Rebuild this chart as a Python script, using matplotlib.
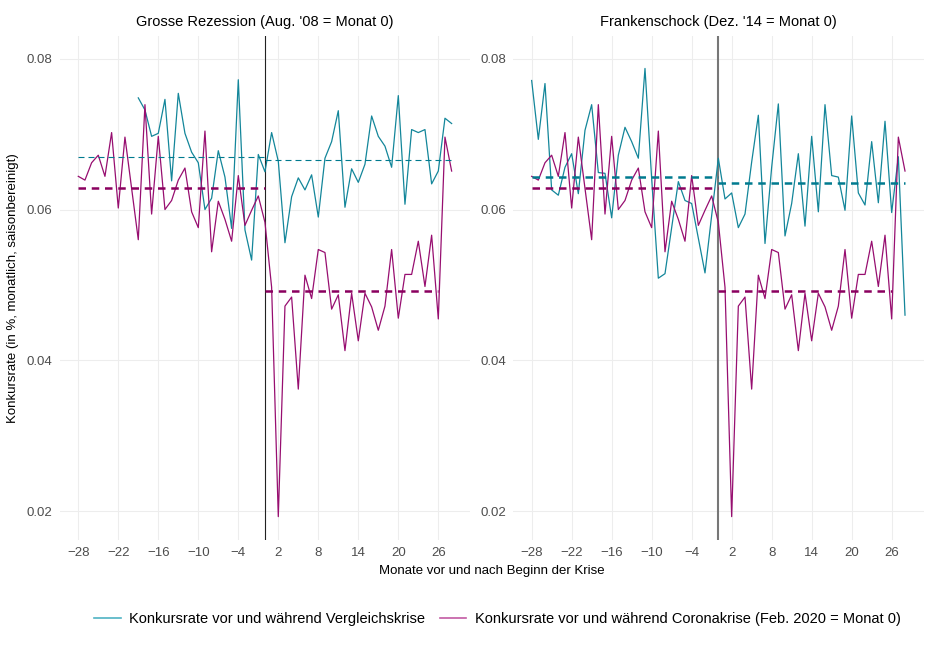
import matplotlib
matplotlib.use("Agg")
import matplotlib.pyplot as plt
from matplotlib.lines import Line2D

plt.rcParams['font.family'] = ['Liberation Sans', 'DejaVu Sans']

# Monate relativ zum Krisenbeginn
monate = list(range(-28, 29))
monate_gr = list(range(-19, 29))

# Konkursrate Coronakrise (Feb. 2020 = Monat 0)
corona = [0.0644, 0.0639, 0.0662, 0.0672, 0.0644, 0.0702, 0.0602, 0.0696, 0.0628, 0.0560,
          0.0739, 0.0594, 0.0697, 0.0600, 0.0612, 0.0639, 0.0655, 0.0597, 0.0576, 0.0704,
          0.0544, 0.0611, 0.0587, 0.0558, 0.0645, 0.0579, 0.0599, 0.0618, 0.0583, 0.0497,
          0.0193, 0.0472, 0.0484, 0.0362, 0.0513, 0.0482, 0.0547, 0.0543, 0.0468, 0.0487,
          0.0413, 0.0489, 0.0426, 0.0489, 0.0471, 0.0440, 0.0472, 0.0547, 0.0456, 0.0514,
          0.0514, 0.0558, 0.0498, 0.0566, 0.0455, 0.0696, 0.0651]

# Grosse Rezession (Aug. '08 = Monat 0), ab Monat -19
rezession = [0.0748, 0.0732, 0.0697, 0.0701, 0.0746, 0.0638, 0.0754, 0.0701, 0.0676, 0.0662,
             0.0600, 0.0615, 0.0678, 0.0643, 0.0575, 0.0772, 0.0573, 0.0533, 0.0673, 0.0650,
             0.0702, 0.0664, 0.0556, 0.0617, 0.0642, 0.0626, 0.0646, 0.0590, 0.0668, 0.0690,
             0.0731, 0.0603, 0.0654, 0.0636, 0.0660, 0.0724, 0.0697, 0.0684, 0.0656, 0.0751,
             0.0607, 0.0706, 0.0702, 0.0706, 0.0634, 0.0651, 0.0721, 0.0714]

# Frankenschock (Dez. '14 = Monat 0)
franken = [0.0771, 0.0693, 0.0767, 0.0626, 0.0619, 0.0656, 0.0674, 0.0621, 0.0705, 0.0739,
           0.0649, 0.0648, 0.0589, 0.0672, 0.0709, 0.0690, 0.0668, 0.0787, 0.0641, 0.0509,
           0.0515, 0.0576, 0.0637, 0.0612, 0.0608, 0.0562, 0.0516, 0.0592, 0.0668, 0.0614,
           0.0622, 0.0576, 0.0594, 0.0663, 0.0725, 0.0555, 0.0656, 0.0740, 0.0565, 0.0608,
           0.0674, 0.0578, 0.0697, 0.0597, 0.0739, 0.0645, 0.0643, 0.0599, 0.0724, 0.0622,
           0.0606, 0.0690, 0.0609, 0.0717, 0.0596, 0.0670, 0.0460]

# Durchschnitte vor / nach Krisenbeginn
mittel_corona = [0.0629, 0.0492]
mittel_rezession = [0.0669, 0.0665]
mittel_franken = [0.0643, 0.0635]
abschnitte_vor = [-28, 0]
abschnitte_nach = [0, 28]
abschnitte_nach_corona = [0, 26]

titel = ["Grosse Rezession (Aug. '08 = Monat 0)", "Frankenschock (Dez. '14 = Monat 0)"]
xticks = list(range(-28, 27, 6))
yticks = [0.02, 0.04, 0.06, 0.08]

teal = '#13869a'
teal_d = '#007a8f'
mag = '#970e70'
mag_d = '#8a005f'

fig = plt.figure(figsize=(9.3, 6.51), dpi=100)
ax1 = fig.add_axes([0.0641, 0.1705, 0.4416, 0.7742])
ax2 = fig.add_axes([0.5516, 0.1705, 0.4416, 0.7742])

for ax, t in zip([ax1, ax2], titel):
    ax.set_xlim(-30.8, 30.8)
    ax.set_ylim(0.0162, 0.0830)
    ax.set_xticks(xticks)
    ax.set_yticks(yticks)
    ax.set_yticklabels(["0.02", "0.04", "0.06", "0.08"])
    ax.grid(True, color='#ededed', linewidth=0.8)
    ax.set_axisbelow(True)
    for s in ax.spines.values():
        s.set_visible(False)
    ax.tick_params(length=0, labelsize=9.5, labelcolor='#4d4d4d', pad=5)
    ax.set_title(t, fontsize=10.5, pad=7)

# linkes Panel
ax1.axvline(0, color='#222222', linewidth=0.8, zorder=1)
ax1.plot(monate_gr, rezession, color=teal, linewidth=0.9)
ax1.plot(monate, corona, color=mag, linewidth=0.9)
ax1.plot(abschnitte_vor, [mittel_rezession[0]] * 2, color=teal_d, linewidth=0.8, dashes=(5.4, 3.6))
ax1.plot(abschnitte_nach, [mittel_rezession[1]] * 2, color=teal_d, linewidth=0.8, dashes=(5.4, 3.6))
ax1.plot(abschnitte_vor, [mittel_corona[0]] * 2, color=mag_d, linewidth=1.8, dashes=(3, 2.3))
ax1.plot(abschnitte_nach_corona, [mittel_corona[1]] * 2, color=mag_d, linewidth=1.8, dashes=(3, 2.3))

# rechtes Panel
ax2.axvline(0, color='#777777', linewidth=1.5, zorder=1)
ax2.plot(monate, franken, color=teal, linewidth=0.9)
ax2.plot(monate, corona, color=mag, linewidth=0.9)
ax2.plot(abschnitte_vor, [mittel_franken[0]] * 2, color=teal_d, linewidth=1.8, dashes=(3, 2.3))
ax2.plot(abschnitte_nach, [mittel_franken[1]] * 2, color=teal_d, linewidth=1.8, dashes=(3, 2.3))
ax2.plot(abschnitte_vor, [mittel_corona[0]] * 2, color=mag_d, linewidth=1.8, dashes=(3, 2.3))
ax2.plot(abschnitte_nach_corona, [mittel_corona[1]] * 2, color=mag_d, linewidth=1.8, dashes=(3, 2.3))

fig.text(0.5286, 0.1229, "Monate vor und nach Beginn der Krise", ha='center', va='center', fontsize=9.5)
fig.text(0.014, 0.5576, "Konkursrate (in %, monatlich, saisonbereinigt)", ha='center', va='center',
         rotation=90, fontsize=9.5)

handles = [Line2D([], [], color='#4fb3c3', linewidth=1.2),
           Line2D([], [], color='#c25aa3', linewidth=1.2)]
labels = ["Konkursrate vor und während Vergleichskrise",
          "Konkursrate vor und während Coronakrise (Feb. 2020 = Monat 0)"]
fig.legend(handles, labels, loc='center', bbox_to_anchor=(0.535, 0.049), ncol=2, frameon=False,
           fontsize=10.5, handlelength=1.8, handletextpad=0.6, columnspacing=1.0)

fig.savefig("out.png", dpi=100)
